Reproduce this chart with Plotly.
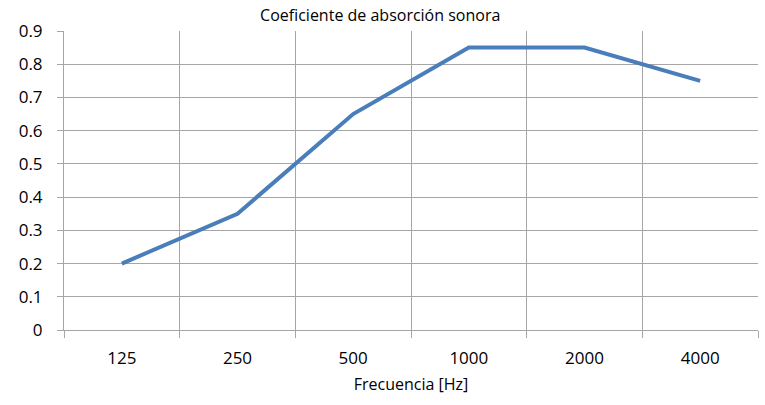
import plotly.graph_objects as go

frequencies = ["125", "250", "500", "1000", "2000", "4000"]
absorption = [0.2, 0.35, 0.65, 0.85, 0.85, 0.75]
y_ticks = [0, 0.1, 0.2, 0.3, 0.4, 0.5, 0.6, 0.7, 0.8, 0.9]
y_labels = ["0", "0.1", "0.2", "0.3", "0.4", "0.5", "0.6", "0.7", "0.8", "0.9"]

grid = "#a6a6a6"
font = "Open Sans"

fig = go.Figure(go.Scatter(
    x=frequencies, y=absorption, mode="lines",
    line=dict(color="#4a7ebb", width=4), showlegend=False))

fig.update_layout(
    width=765, height=405,
    margin=dict(l=64, r=7, t=31, b=75, autoexpand=False),
    paper_bgcolor="white", plot_bgcolor="white",
    font=dict(family=font, size=17, color="#000000"),
    title=dict(text="Coeficiente de absorción sonora", x=0.497, xanchor="center",
               y=0.962, yref="container", yanchor="middle",
               font=dict(family=font, size=16, color="#000000"), automargin=False),
)
fig.update_xaxes(
    type="category", tickson="boundaries", showgrid=True, gridcolor=grid, gridwidth=1,
    ticks="outside", ticklen=7, tickcolor=grid, showline=True, linecolor=grid,
    ticklabelstandoff=13,
    title=dict(text="Frecuencia [Hz]", standoff=10, font=dict(size=16)),
    tickfont=dict(size=17), range=[-0.5, 5.5], automargin=False,
)
fig.update_yaxes(
    range=[0, 0.9], tickvals=y_ticks, ticktext=y_labels, showgrid=True, gridcolor=grid,
    ticks="outside", ticklen=6, tickcolor=grid, showline=True, linecolor=grid,
    ticklabelstandoff=11,
    zeroline=False, tickfont=dict(size=17), automargin=False,
)
fig.write_html("out.html", config={"displayModeBar": False},
               post_script="document.body.style.margin='0';document.body.style.overflow='hidden';")
